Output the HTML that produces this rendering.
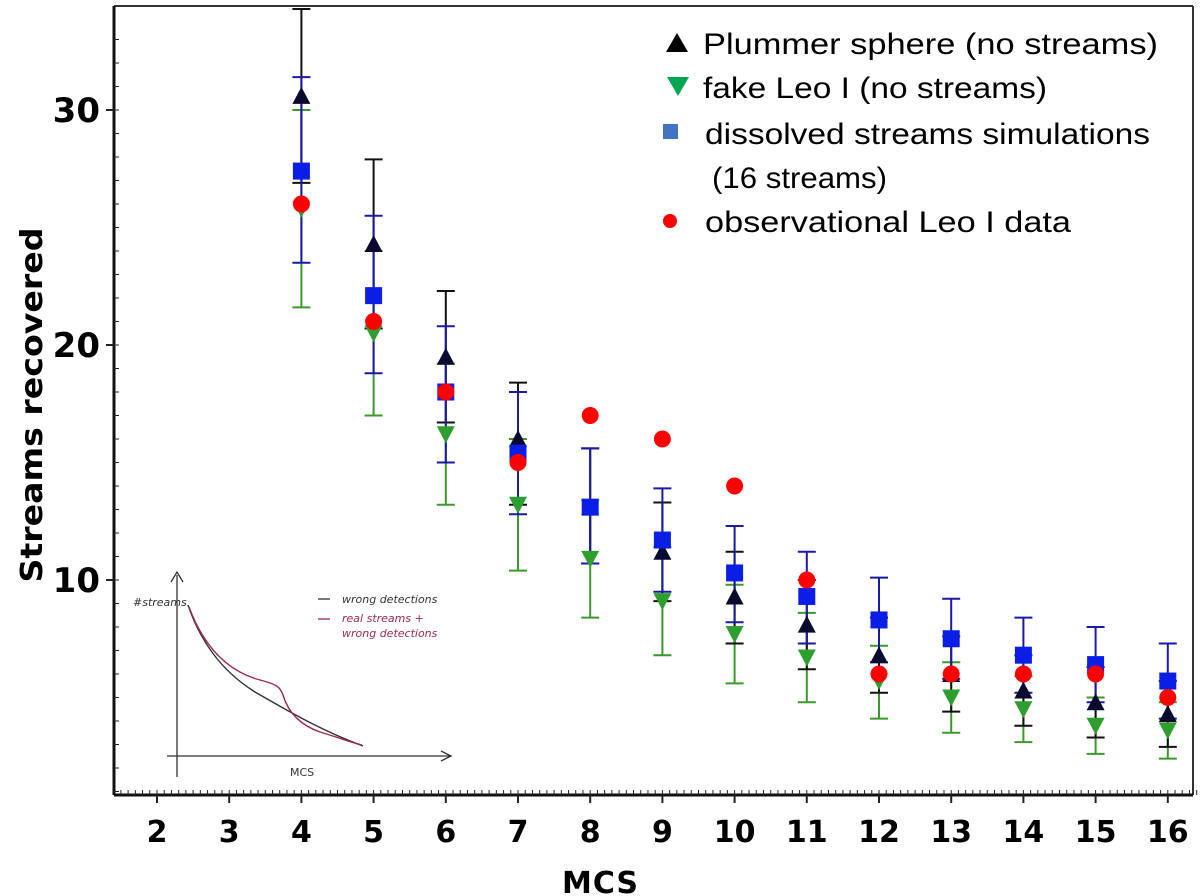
<!DOCTYPE html>
<html><head><meta charset="utf-8">
<style>
html,body{margin:0;padding:0;background:#fff;}
svg{display:block;font-family:"DejaVu Sans","Liberation Sans",sans-serif;}
</style></head>
<body>
<svg id="chart" width="1200" height="896" viewBox="0 0 1200 896" xmlns="http://www.w3.org/2000/svg">
  <rect x="0" y="0" width="1200" height="896" fill="#fff"/>
  <g id="frame">
    <line x1="114" y1="6" x2="1193" y2="6" stroke="#333" stroke-width="2"/>
    <line x1="1193" y1="6" x2="1193" y2="795" stroke="#333" stroke-width="2"/>
    <line x1="114" y1="6" x2="114" y2="795" stroke="#111" stroke-width="3"/>
    <line x1="114" y1="795" x2="1193" y2="795" stroke="#111" stroke-width="3"/>
  </g>
  <g id="ticks"></g>
  <g id="inset">
    <path d="M177 777 L177 575 M171 582 L177 572 L183 582" fill="none" stroke="#333" stroke-width="1.3"/>
    <path d="M167 756 L450 756 M441 751 L451 756 L441 761" fill="none" stroke="#333" stroke-width="1.3"/>
    <path d="M188 605 C200 640 220 670 255 692 C290 712 320 730 363 746" fill="none" stroke="#333" stroke-width="1.4"/>
    <path d="M189 607 C205 650 230 672 260 680 C275 684 280 686 283 695 C288 712 300 725 320 732 C340 738 350 742 362 745" fill="none" stroke="#9b2b4c" stroke-width="1.4"/>
    <text x="133" y="606" font-size="11" fill="#333" font-style="italic">#streams</text>
    <text x="290" y="776" font-size="11" fill="#333">MCS</text>
    <line x1="318" y1="599" x2="330" y2="599" stroke="#333" stroke-width="1.3"/>
    <text x="342" y="603" font-size="11" fill="#333" font-style="italic">wrong detections</text>
    <line x1="318" y1="619" x2="330" y2="619" stroke="#9b2b4c" stroke-width="1.3"/>
    <text x="342" y="622" font-size="11" fill="#9b2b4c" font-style="italic">real streams +</text>
    <text x="342" y="637" font-size="11" fill="#9b2b4c" font-style="italic">wrong detections</text>
  </g>
  <g id="series"></g>
  <g id="legend" font-family="Liberation Sans, sans-serif" font-size="30" fill="#000">
    <polygon points="666,52 677,33 688,52" fill="#000"/>
    <text x="703" y="54" textLength="455" lengthAdjust="spacingAndGlyphs">Plummer sphere (no streams)</text>
    <polygon points="667,77 689,77 678,96" fill="#00a651"/>
    <text x="703" y="98" textLength="344" lengthAdjust="spacingAndGlyphs">fake Leo I (no streams)</text>
    <rect x="663" y="124" width="15" height="15" fill="#4472c4"/>
    <text x="705" y="144" textLength="445" lengthAdjust="spacingAndGlyphs">dissolved streams simulations</text>
    <text x="712" y="188" textLength="175" lengthAdjust="spacingAndGlyphs">(16 streams)</text>
    <circle cx="670" cy="221" r="7" fill="#f00"/>
    <text x="705" y="232" textLength="366" lengthAdjust="spacingAndGlyphs">observational Leo I data</text>
  </g>
  <text x="600" y="893" text-anchor="middle" font-size="30" font-weight="bold" textLength="76">MCS</text>
  <text transform="translate(42,405) rotate(-90)" text-anchor="middle" font-size="30" font-weight="bold" textLength="355" lengthAdjust="spacingAndGlyphs">Streams recovered</text>
</svg>
<script>
const mcs = [4,5,6,7,8,9,10,11,12,13,14,15,16];
const plummerVal = [30.6,24.3,19.5,16.0,13.1,11.2,9.3,8.1,6.8,6.0,5.3,4.8,4.3];
const plummerHi  = [34.3,27.9,22.3,18.4,15.6,13.3,11.2,10.0,8.4,7.6,6.8,6.3,5.7];
const plummerLo  = [26.9,20.7,16.7,13.2,10.7,9.1,7.3,6.2,5.2,4.4,3.8,3.3,2.9];
const fakeVal = [25.8,20.5,16.2,13.2,10.9,9.1,7.7,6.7,5.7,5.0,4.5,3.8,3.6];
const fakeHi  = [30.0,24.0,19.2,16.0,13.4,11.4,9.8,8.6,7.2,6.5,5.9,5.0,4.8];
const fakeLo  = [21.6,17.0,13.2,10.4,8.4,6.8,5.6,4.8,4.1,3.5,3.1,2.6,2.4];
const dissVal = [27.4,22.1,18.0,15.4,13.1,11.7,10.3,9.3,8.3,7.5,6.8,6.4,5.7];
const dissHi  = [31.4,25.5,20.8,18.0,15.6,13.9,12.3,11.2,10.1,9.2,8.4,8.0,7.3];
const dissLo  = [23.5,18.8,15.0,12.8,10.7,9.5,8.2,7.3,6.5,5.8,5.2,4.8,4.1];
const obsVal = [26,21,18,15,17,16,14,10,6,6,6,6,5];
const xTicks = [2,3,4,5,6,7,8,9,10,11,12,13,14,15,16];
const yTicks = [10,20,30];

const NS = "http://www.w3.org/2000/svg";
function X(v){ return 157 + (v-2)*72.2; }
function Y(v){ return 110 + (30-v)*23.5; }
function mk(tag, attrs, parent){
  const e = document.createElementNS(NS, tag);
  for (const k in attrs) e.setAttribute(k, attrs[k]);
  parent.appendChild(e); return e;
}
const ticks = document.getElementById('ticks');
for (let v = 1.5; v <= 16.4; v += 0.1) {
  const l = mk('line', {x1:X(v), x2:X(v), y1:795, y2:790, stroke:'#222', 'stroke-width':1}, ticks);
  
  
}
xTicks.forEach(v => {
  const l = mk('line', {x1:X(v), x2:X(v), y1:795, y2:803, stroke:'#222', 'stroke-width':2}, ticks);
  
  
  const t = mk('text', {x:X(v), y:842, 'text-anchor':'middle', 'font-size':30, 'font-weight':'bold'}, ticks);
  t.textContent = v;
  
  
});
for (let v = 1; v <= 33; v++) {
  const y = Y(v); if (y < 8 || y > 793) continue;
  const l = mk('line', {x1:114, x2:119, y1:y, y2:y, stroke:'#222', 'stroke-width':1}, ticks);
  
  
}
yTicks.forEach(v => {
  const l = mk('line', {x1:106, x2:114, y1:Y(v), y2:Y(v), stroke:'#222', 'stroke-width':2}, ticks);
  
  
  const t = mk('text', {x:100, y:Y(v)+12, 'text-anchor':'end', 'font-size':34, 'font-weight':'bold'}, ticks);
  t.textContent = v;
  
  
});

const series = document.getElementById('series');
function errbars(vals, hi, lo, color, name){
  const g = mk('g', {}, series);
  
  
  mcs.forEach((m,i) => {
    const x = X(m);
    const l = mk('path', {d:`M${x} ${Y(hi[i])} L${x} ${Y(lo[i])} M${x-9} ${Y(hi[i])} L${x+9} ${Y(hi[i])} M${x-9} ${Y(lo[i])} L${x+9} ${Y(lo[i])}`, stroke:color, 'stroke-width':2, fill:'none'}, g);
    
    
  });
}
errbars(fakeVal, fakeHi, fakeLo, '#3a9a2a', 'fake-leo');
errbars(plummerVal, plummerHi, plummerLo, '#111', 'plummer');
errbars(dissVal, dissHi, dissLo, '#1a1aa8', 'dissolved');

mcs.forEach((m,i) => {
  const x = X(m), y = Y(fakeVal[i]);
  const p = mk('polygon', {points:`${x-9},${y-8} ${x+9},${y-8} ${x},${y+9}`, fill:'#2e9e2e'}, series);
  
  
});
mcs.forEach((m,i) => {
  const x = X(m), y = Y(plummerVal[i]);
  const p = mk('polygon', {points:`${x-9},${y+8} ${x+9},${y+8} ${x},${y-9}`, fill:'#0a0a30'}, series);
  
  
});
mcs.forEach((m,i) => {
  const x = X(m), y = Y(dissVal[i]);
  const p = mk('rect', {x:x-8.5, y:y-8.5, width:17, height:17, fill:'#0a1ee6'}, series);
  
  
});
mcs.forEach((m,i) => {
  const p = mk('circle', {cx:X(m), cy:Y(obsVal[i]), r:8.5, fill:'#f00'}, series);
  
  
});
</script>
</body></html>
